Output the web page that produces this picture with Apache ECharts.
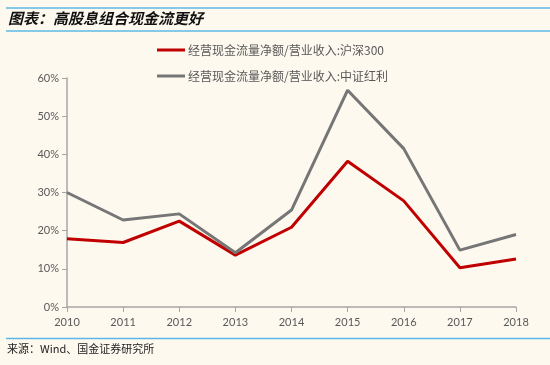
<!DOCTYPE html>
<html>
<head>
<meta charset="utf-8">
<script src="https://cdn.jsdelivr.net/npm/echarts@6/dist/echarts.min.js"></script>
<style>
html,body{margin:0;padding:0;background:#FDF9EF;}
#c{width:550px;height:365px;}
</style>
</head>
<body>
<div id="c"></div>
<script>
var years = ['2010','2011','2012','2013','2014','2015','2016','2017','2018'];
var hs300 = [17.9, 16.9, 22.5, 13.6, 20.9, 38.2, 27.8, 10.3, 12.6];
var zzhl = [30.0, 22.8, 24.4, 14.2, 25.4, 56.8, 41.5, 14.9, 19.0];
var seriesNames = ['经营现金流量净额/营业收入:沪深300', '经营现金流量净额/营业收入:中证红利'];
var yTicks = [0, 10, 20, 30, 40, 50, 60];
var titleText = '图表：高股息组合现金流更好';
var sourceText = '来源：Wind、国金证券研究所';

var chart = echarts.init(document.getElementById('c'), null, {renderer: 'canvas'});
var axisColor = '#A6A6A6';
var labelColor = '#595959';
chart.setOption({
  backgroundColor: '#FDF9EF',
  animation: false,
  graphic: [
    {type: 'line', shape: {x1: 6, y1: 8, x2: 550, y2: 8}, style: {stroke: '#5BB8E6', lineWidth: 1.5}},
    {type: 'line', shape: {x1: 6, y1: 31, x2: 550, y2: 31}, style: {stroke: '#5BB8E6', lineWidth: 1.5}},
    {type: 'text', left: 8, top: 11, style: {text: titleText, font: 'italic bold 15px "Noto Sans CJK SC"', fill: '#111'}},
    {type: 'line', shape: {x1: 6, y1: 338.5, x2: 550, y2: 338.5}, style: {stroke: '#5BB8E6', lineWidth: 1.5}},
    {type: 'text', left: 7, top: 343, style: {text: sourceText, font: '11px "Noto Sans CJK SC"', fill: '#222'}}
  ],
  legend: {
    orient: 'vertical',
    left: 152,
    top: 39,
    itemGap: 14,
    itemWidth: 28,
    itemHeight: 3,
    icon: 'rect',
    textStyle: {fontFamily: '"Noto Sans CJK SC"', fontSize: 12, color: '#595959', padding: [0,0,0,-2]},
    data: seriesNames
  },
  grid: {left: 67, right: 34, top: 78, bottom: 58, containLabel: false},
  xAxis: {
    type: 'category',
    data: years,
    boundaryGap: false,
    axisLine: {lineStyle: {color: axisColor, width: 1.5}},
    axisTick: {show: true, length: 5, lineStyle: {color: axisColor}},
    axisLabel: {color: labelColor, fontFamily: 'Lato', fontSize: 11, margin: 10},
    splitLine: {show: false}
  },
  yAxis: {
    type: 'value',
    min: 0, max: 60, interval: 10,
    axisLine: {show: true, lineStyle: {color: axisColor, width: 1.5}},
    axisTick: {show: true, length: 5, lineStyle: {color: axisColor}},
    axisLabel: {color: labelColor, fontFamily: 'Lato', fontSize: 11, margin: 8, formatter: function(v){return v + '%';}},
    splitLine: {show: false}
  },
  series: [
    {name: seriesNames[0], type: 'line', data: hs300, symbol: 'none', lineStyle: {color: '#C00000', width: 3}, itemStyle: {color: '#C00000'}},
    {name: seriesNames[1], type: 'line', data: zzhl, symbol: 'none', lineStyle: {color: '#767676', width: 3}, itemStyle: {color: '#767676'}}
  ]
});
</script>
</body>
</html>
